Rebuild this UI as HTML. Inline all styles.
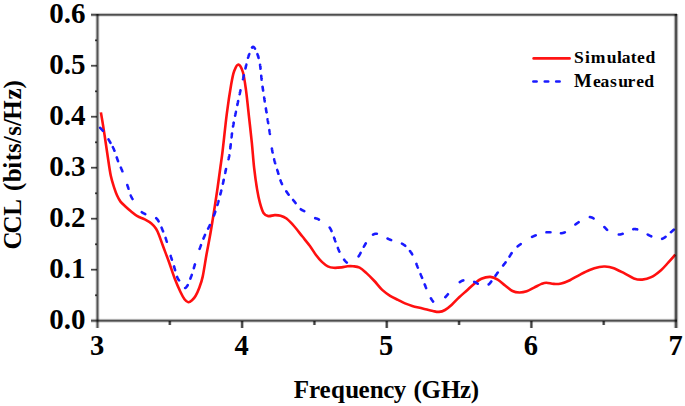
<!DOCTYPE html>
<html><head><meta charset="utf-8"><style>
html,body{margin:0;padding:0;background:#fff;width:685px;height:406px;overflow:hidden}
svg{display:block}
text{font-family:"Liberation Serif",serif;font-weight:bold}
</style></head><body>
<svg width="685" height="406" viewBox="0 0 685 406">
<path d="M100.90 112.40 C101.25 114.50 102.27 120.40 103.00 125.00 C103.73 129.60 104.55 135.00 105.30 140.00 C106.05 145.00 106.58 149.03 107.50 155.00 C108.42 160.97 109.63 170.20 110.80 175.80 C111.97 181.40 113.45 185.32 114.50 188.60 C115.55 191.88 116.10 193.33 117.10 195.50 C118.10 197.67 119.07 199.73 120.50 201.60 C121.93 203.47 123.97 205.10 125.70 206.70 C127.43 208.30 128.95 209.63 130.90 211.20 C132.85 212.77 135.08 214.73 137.40 216.10 C139.72 217.47 142.47 218.17 144.80 219.40 C147.13 220.63 149.55 221.97 151.40 223.50 C153.25 225.03 154.67 226.77 155.90 228.60 C157.13 230.43 157.63 231.63 158.80 234.50 C159.97 237.37 161.23 241.30 162.90 245.80 C164.57 250.30 166.83 256.05 168.80 261.50 C170.77 266.95 172.73 273.37 174.70 278.50 C176.67 283.63 178.97 288.85 180.60 292.30 C182.23 295.75 183.22 297.55 184.50 299.20 C185.78 300.85 187.05 302.02 188.30 302.20 C189.55 302.38 190.80 301.33 192.00 300.30 C193.20 299.27 194.28 298.10 195.50 296.00 C196.72 293.90 198.10 290.93 199.30 287.70 C200.50 284.47 201.50 282.13 202.70 276.60 C203.90 271.07 205.20 261.77 206.50 254.50 C207.80 247.23 209.13 240.92 210.50 233.00 C211.87 225.08 213.50 214.67 214.70 207.00 C215.90 199.33 216.77 193.50 217.70 187.00 C218.63 180.50 219.48 174.00 220.30 168.00 C221.12 162.00 221.52 160.03 222.60 151.00 C223.68 141.97 225.37 124.92 226.80 113.80 C228.23 102.68 229.97 91.43 231.20 84.30 C232.43 77.17 232.98 74.28 234.20 71.00 C235.42 67.72 237.03 64.35 238.50 64.60 C239.97 64.85 241.75 68.23 243.00 72.50 C244.25 76.77 245.00 82.82 246.00 90.20 C247.00 97.58 248.02 107.95 249.00 116.80 C249.98 125.65 251.05 134.82 251.90 143.30 C252.75 151.78 253.23 160.02 254.10 167.70 C254.97 175.38 256.12 183.48 257.10 189.40 C258.08 195.32 258.93 199.27 260.00 203.20 C261.07 207.13 262.12 210.85 263.50 213.00 C264.88 215.15 266.43 215.75 268.30 216.10 C270.17 216.45 272.65 215.17 274.70 215.10 C276.75 215.03 278.63 215.12 280.60 215.70 C282.57 216.28 284.20 216.80 286.50 218.60 C288.80 220.40 291.78 223.55 294.40 226.50 C297.02 229.45 299.58 233.02 302.20 236.30 C304.82 239.58 307.80 243.08 310.10 246.20 C312.40 249.32 314.03 252.38 316.00 255.00 C317.97 257.62 319.93 260.02 321.90 261.90 C323.87 263.78 325.83 265.32 327.80 266.30 C329.77 267.28 331.40 267.62 333.70 267.80 C336.00 267.98 339.30 267.65 341.60 267.40 C343.90 267.15 345.60 266.48 347.50 266.30 C349.40 266.12 350.98 266.08 353.00 266.30 C355.02 266.52 357.35 266.47 359.60 267.60 C361.85 268.73 364.03 270.87 366.50 273.10 C368.97 275.33 371.78 278.20 374.40 281.00 C377.02 283.80 379.58 287.43 382.20 289.90 C384.82 292.37 387.47 294.13 390.10 295.80 C392.73 297.47 395.52 298.63 398.00 299.90 C400.48 301.17 402.63 302.40 405.00 303.40 C407.37 304.40 409.27 305.07 412.20 305.90 C415.13 306.73 419.15 307.55 422.60 308.40 C426.05 309.25 430.17 310.42 432.90 311.00 C435.63 311.58 436.98 312.07 439.00 311.90 C441.02 311.73 442.87 311.20 445.00 310.00 C447.13 308.80 449.43 306.82 451.80 304.70 C454.17 302.58 456.73 299.63 459.20 297.30 C461.67 294.97 464.13 292.92 466.60 290.70 C469.07 288.48 471.53 285.98 474.00 284.00 C476.47 282.02 478.68 279.98 481.40 278.80 C484.12 277.62 487.58 276.77 490.30 276.90 C493.02 277.03 495.23 278.17 497.70 279.60 C500.17 281.03 502.63 283.60 505.10 285.50 C507.57 287.40 510.13 289.83 512.50 291.00 C514.87 292.17 516.93 292.45 519.30 292.50 C521.67 292.55 524.23 292.12 526.70 291.30 C529.17 290.48 531.63 288.83 534.10 287.60 C536.57 286.37 539.45 284.72 541.50 283.90 C543.55 283.08 544.35 282.70 546.40 282.70 C548.45 282.70 551.33 283.78 553.80 283.90 C556.27 284.02 558.52 284.02 561.20 283.40 C563.88 282.78 566.82 281.63 569.90 280.20 C572.98 278.77 576.42 276.50 579.70 274.80 C582.98 273.10 586.32 271.30 589.60 270.00 C592.88 268.70 596.83 267.58 599.40 267.00 C601.97 266.42 602.73 266.33 605.00 266.50 C607.27 266.67 609.82 266.88 613.00 268.00 C616.18 269.12 620.62 271.47 624.10 273.20 C627.58 274.93 630.88 277.33 633.90 278.40 C636.92 279.47 639.32 279.80 642.20 279.60 C645.08 279.40 648.07 278.77 651.20 277.20 C654.33 275.63 658.13 272.67 661.00 270.20 C663.87 267.73 666.02 265.00 668.40 262.40 C670.78 259.80 674.15 255.90 675.30 254.60" fill="none" stroke="#ff1010" stroke-width="2.6" stroke-linejoin="round" stroke-linecap="butt"/>
<path d="M100.20 127.80 L100.27 127.88 L100.34 127.96 L100.42 128.06 L100.51 128.15 L100.60 128.25 L100.70 128.36 L100.80 128.47 L100.91 128.59 L101.02 128.71 L101.14 128.83 L101.26 128.96 L101.38 129.10 L101.51 129.24 L101.64 129.38 L101.78 129.53 L101.92 129.69 L102.06 129.84 L102.20 130.01 L102.34 130.17 L102.49 130.34 L102.64 130.52 L102.79 130.70 L102.83 130.74 M108.51 139.42 L108.61 139.60 L108.72 139.78 L108.82 139.96 L108.93 140.14 L109.03 140.32 L109.13 140.49 L109.23 140.67 L109.33 140.84 L109.43 141.01 L109.53 141.18 L109.63 141.35 L109.72 141.52 L109.82 141.68 L109.91 141.84 L110.00 142.00 L110.11 142.19 L110.22 142.38 L110.32 142.57 L110.43 142.75 L110.48 142.84 M112.86 147.10 L112.93 147.25 L113.01 147.42 L113.10 147.60 L113.19 147.78 L113.28 147.96 L113.37 148.15 L113.45 148.34 L113.54 148.53 L113.63 148.72 L113.72 148.92 L113.81 149.12 L113.90 149.32 L113.99 149.53 L114.08 149.75 L114.15 149.92 L114.22 150.08 L114.28 150.25 L114.35 150.42 L114.42 150.58 L114.47 150.71 M116.74 157.42 L116.80 157.62 L116.87 157.81 L116.93 158.01 L117.00 158.21 L117.07 158.41 L117.13 158.60 L117.20 158.80 L117.27 159.00 L117.34 159.19 L117.41 159.38 L117.47 159.58 L117.54 159.77 L117.61 159.96 L117.68 160.15 L117.75 160.34 L117.82 160.53 L117.89 160.72 L117.96 160.91 L118.04 161.09 L118.05 161.14 M120.84 167.58 L120.92 167.76 L121.00 167.95 L121.08 168.13 L121.16 168.32 L121.24 168.50 L121.32 168.69 L121.40 168.87 L121.48 169.06 L121.56 169.25 L121.65 169.44 L121.73 169.64 L121.81 169.83 L121.89 170.03 L121.97 170.22 L122.05 170.42 L122.13 170.62 L122.21 170.82 L122.30 171.02 L122.38 171.23 M127.31 185.05 L127.37 185.22 L127.43 185.39 L127.49 185.56 L127.56 185.76 L127.63 185.98 L127.70 186.20 L127.78 186.41 L127.85 186.63 L127.92 186.84 L127.99 187.06 L128.06 187.27 L128.13 187.49 L128.20 187.70 L128.27 187.91 L128.34 188.12 L128.40 188.33 L128.47 188.54 L128.54 188.75 L128.55 188.80 M130.77 195.50 L130.83 195.65 L130.89 195.81 L130.96 195.96 L131.02 196.11 L131.08 196.26 L131.18 196.48 L131.28 196.71 L131.39 196.93 L131.49 197.15 L131.60 197.36 L131.70 197.56 L131.80 197.76 L131.91 197.95 L132.01 198.13 L132.12 198.31 L132.22 198.49 L132.33 198.66 L132.43 198.82 L132.53 198.99 L132.56 199.03 M141.77 212.20 L141.92 212.30 L142.08 212.41 L142.25 212.52 L142.42 212.63 L142.59 212.73 L142.77 212.84 L142.95 212.94 L143.13 213.04 L143.31 213.14 L143.50 213.24 L143.68 213.33 L143.87 213.43 L144.06 213.52 L144.25 213.61 L144.44 213.70 L144.63 213.79 L144.82 213.88 L145.01 213.96 L145.20 214.05 L145.24 214.07 M156.22 218.20 L156.34 218.31 L156.48 218.44 L156.61 218.57 L156.74 218.71 L156.87 218.85 L156.99 218.99 L157.12 219.13 L157.24 219.28 L157.35 219.43 L157.47 219.58 L157.58 219.74 L157.70 219.90 L157.81 220.06 L157.92 220.23 L158.03 220.40 L158.13 220.57 L158.24 220.74 L158.35 220.92 L158.45 221.10 L158.56 221.28 L158.61 221.37 M161.59 227.71 L161.67 227.91 L161.75 228.11 L161.83 228.31 L161.91 228.52 L161.99 228.72 L162.07 228.93 L162.16 229.14 L162.24 229.35 L162.33 229.57 L162.41 229.78 L162.50 230.00 L162.56 230.16 L162.63 230.32 L162.70 230.49 L162.76 230.65 L162.83 230.81 L162.90 230.97 L162.96 231.14 L163.03 231.30 L163.06 231.38 M165.62 237.96 L165.70 238.17 L165.77 238.39 L165.85 238.61 L165.92 238.84 L166.00 239.06 L166.07 239.29 L166.14 239.52 L166.21 239.74 L166.26 239.90 L166.32 240.07 L166.37 240.24 L166.42 240.40 L166.47 240.58 L166.52 240.75 L166.57 240.93 L166.63 241.10 L166.68 241.28 L166.73 241.46 L166.79 241.65 L166.81 241.74 M170.68 255.89 L170.73 256.08 L170.80 256.28 L170.86 256.48 L170.92 256.69 L170.98 256.88 L171.05 257.08 L171.11 257.28 L171.17 257.47 L171.23 257.66 L171.29 257.85 L171.35 258.04 L171.41 258.23 L171.47 258.42 L171.53 258.60 L171.59 258.79 L171.65 258.97 L171.71 259.16 L171.77 259.34 L171.83 259.52 L171.88 259.66 M174.01 266.40 L174.07 266.60 L174.13 266.80 L174.19 267.00 L174.24 267.21 L174.30 267.41 L174.36 267.62 L174.42 267.83 L174.48 268.04 L174.54 268.24 L174.59 268.45 L174.65 268.66 L174.71 268.88 L174.77 269.09 L174.83 269.30 L174.89 269.51 L174.94 269.72 L175.00 269.93 L175.06 270.14 L175.08 270.20 M177.14 276.96 L177.25 277.23 L177.35 277.48 L177.46 277.72 L177.57 277.95 L177.67 278.17 L177.77 278.37 L177.87 278.56 L177.98 278.74 L178.08 278.92 L178.17 279.08 L178.27 279.24 L178.37 279.39 L178.47 279.54 L178.56 279.68 L178.66 279.82 L178.75 279.96 L178.85 280.09 L178.94 280.23 L179.03 280.36 L179.06 280.39 M185.13 288.01 L185.30 287.97 L185.47 287.89 L185.63 287.79 L185.79 287.67 L185.94 287.53 L186.09 287.37 L186.24 287.19 L186.39 287.01 L186.54 286.83 L186.69 286.64 L186.83 286.47 L186.93 286.34 L187.04 286.20 L187.14 286.06 L187.24 285.92 L187.34 285.77 L187.44 285.62 L187.54 285.46 L187.64 285.30 L187.74 285.13 M190.39 278.58 L190.46 278.38 L190.53 278.19 L190.60 278.00 L190.67 277.81 L190.74 277.63 L190.81 277.44 L190.88 277.26 L190.95 277.07 L191.02 276.89 L191.09 276.70 L191.16 276.52 L191.23 276.33 L191.30 276.15 L191.37 275.96 L191.44 275.78 L191.51 275.59 L191.58 275.40 L191.64 275.22 L191.71 275.03 L191.77 274.89 M193.83 268.17 L193.88 267.98 L193.94 267.78 L193.99 267.59 L194.04 267.40 L194.10 267.21 L194.15 267.02 L194.20 266.83 L194.26 266.64 L194.31 266.45 L194.37 266.25 L194.43 266.06 L194.49 265.88 L194.54 265.70 L194.60 265.52 L194.65 265.35 L194.70 265.17 L194.76 265.00 L194.81 264.83 L194.87 264.67 L194.92 264.50 L194.96 264.37 M199.59 248.85 L199.65 248.68 L199.71 248.50 L199.77 248.33 L199.83 248.15 L199.90 247.98 L199.96 247.80 L200.02 247.63 L200.09 247.45 L200.15 247.28 L200.22 247.10 L200.29 246.92 L200.35 246.75 L200.42 246.57 L200.49 246.38 L200.56 246.20 L200.63 246.02 L200.70 245.83 L200.77 245.64 L200.85 245.44 L200.92 245.25 L200.96 245.15 M203.48 238.53 L203.56 238.34 L203.64 238.15 L203.71 237.96 L203.79 237.76 L203.87 237.57 L203.95 237.38 L204.03 237.18 L204.11 236.99 L204.19 236.79 L204.27 236.59 L204.35 236.39 L204.44 236.19 L204.52 235.99 L204.61 235.79 L204.70 235.59 L204.78 235.39 L204.87 235.18 L204.96 234.98 L205.01 234.88 M208.11 228.57 L208.21 228.38 L208.31 228.19 L208.41 228.01 L208.51 227.82 L208.60 227.63 L208.70 227.44 L208.80 227.25 L208.90 227.07 L209.00 226.88 L209.09 226.69 L209.19 226.50 L209.29 226.32 L209.38 226.13 L209.48 225.95 L209.57 225.76 L209.67 225.58 L209.76 225.39 L209.86 225.21 L209.93 225.07 M214.04 215.43 L214.10 215.25 L214.16 215.07 L214.23 214.89 L214.29 214.71 L214.35 214.53 L214.41 214.34 L214.48 214.16 L214.54 213.97 L214.60 213.78 L214.67 213.59 L214.73 213.40 L214.80 213.21 L214.86 213.02 L214.93 212.82 L214.99 212.62 L215.06 212.42 L215.13 212.22 L215.20 212.01 L215.27 211.80 L215.31 211.66 M217.42 204.94 L217.48 204.74 L217.54 204.55 L217.60 204.35 L217.66 204.15 L217.71 203.96 L217.77 203.76 L217.83 203.56 L217.89 203.36 L217.94 203.16 L218.00 202.96 L218.06 202.76 L218.12 202.56 L218.18 202.35 L218.23 202.15 L218.29 201.95 L218.35 201.74 L218.41 201.54 L218.47 201.33 L218.52 201.13 M220.33 194.35 L220.38 194.16 L220.43 193.97 L220.48 193.78 L220.53 193.59 L220.58 193.40 L220.63 193.21 L220.67 193.01 L220.72 192.82 L220.77 192.63 L220.82 192.43 L220.87 192.24 L220.92 192.05 L220.97 191.85 L221.01 191.65 L221.06 191.46 L221.11 191.26 L221.16 191.07 L221.21 190.87 L221.26 190.67 L221.29 190.52 M222.92 183.63 L222.96 183.44 L223.01 183.25 L223.05 183.06 L223.09 182.87 L223.13 182.68 L223.18 182.49 L223.22 182.30 L223.26 182.10 L223.30 181.91 L223.35 181.71 L223.39 181.52 L223.43 181.32 L223.47 181.12 L223.52 180.92 L223.56 180.73 L223.60 180.53 L223.64 180.33 L223.69 180.13 L223.73 179.93 L223.76 179.77 M225.20 172.90 L225.24 172.70 L225.28 172.50 L225.33 172.30 L225.37 172.10 L225.41 171.90 L225.45 171.71 L225.49 171.51 L225.53 171.31 L225.57 171.12 L225.62 170.92 L225.66 170.73 L225.70 170.53 L225.74 170.34 L225.78 170.15 L225.82 169.96 L225.86 169.77 L225.90 169.58 L225.94 169.39 L225.98 169.20 L226.02 169.02 M228.50 159.21 L228.54 159.04 L228.58 158.85 L228.63 158.67 L228.67 158.48 L228.72 158.28 L228.76 158.08 L228.80 157.88 L228.85 157.68 L228.89 157.48 L228.94 157.27 L228.98 157.05 L229.03 156.84 L229.07 156.62 L229.12 156.39 L229.16 156.16 L229.21 155.93 L229.25 155.70 L229.30 155.45 L229.32 155.33 M230.32 148.35 L230.34 148.17 L230.36 147.98 L230.38 147.79 L230.40 147.61 L230.42 147.42 L230.44 147.23 L230.46 147.04 L230.48 146.85 L230.50 146.66 L230.52 146.46 L230.55 146.27 L230.57 146.08 L230.59 145.88 L230.61 145.69 L230.63 145.49 L230.65 145.30 L230.67 145.10 L230.69 144.90 L230.71 144.70 L230.73 144.51 L230.74 144.41 M231.50 137.39 L231.53 137.17 L231.55 136.96 L231.58 136.74 L231.60 136.53 L231.63 136.31 L231.65 136.10 L231.68 135.88 L231.71 135.66 L231.73 135.45 L231.76 135.23 L231.79 135.01 L231.81 134.80 L231.84 134.58 L231.87 134.36 L231.90 134.15 L231.92 133.93 L231.95 133.71 L231.98 133.49 M233.05 126.53 L233.08 126.34 L233.12 126.15 L233.15 125.96 L233.18 125.78 L233.22 125.59 L233.25 125.40 L233.28 125.21 L233.32 125.02 L233.35 124.83 L233.39 124.64 L233.42 124.44 L233.46 124.25 L233.49 124.06 L233.53 123.87 L233.56 123.67 L233.60 123.48 L233.63 123.29 L233.67 123.09 L233.70 122.90 L233.74 122.70 L233.75 122.66 M235.10 115.73 L235.14 115.53 L235.18 115.33 L235.22 115.13 L235.26 114.93 L235.30 114.72 L235.35 114.52 L235.39 114.32 L235.43 114.12 L235.47 113.91 L235.51 113.71 L235.55 113.51 L235.59 113.30 L235.64 113.10 L235.68 112.90 L235.72 112.70 L235.76 112.49 L235.80 112.29 L235.85 112.09 L235.89 111.89 L235.90 111.84 M237.34 104.96 L237.38 104.76 L237.42 104.57 L237.46 104.37 L237.51 104.17 L237.55 103.98 L237.59 103.78 L237.63 103.59 L237.67 103.39 L237.71 103.20 L237.75 103.00 L237.80 102.81 L237.84 102.61 L237.88 102.42 L237.92 102.23 L237.96 102.03 L238.00 101.84 L238.04 101.65 L238.08 101.46 L238.12 101.26 L238.16 101.07 M239.63 94.16 L239.67 93.95 L239.72 93.75 L239.76 93.54 L239.81 93.33 L239.85 93.12 L239.90 92.91 L239.94 92.70 L239.99 92.50 L240.03 92.29 L240.08 92.08 L240.12 91.87 L240.17 91.67 L240.22 91.46 L240.26 91.25 L240.31 91.04 L240.35 90.84 L240.40 90.63 L240.44 90.42 L240.46 90.32 M242.95 79.19 L242.99 79.02 L243.03 78.83 L243.08 78.64 L243.12 78.46 L243.16 78.27 L243.20 78.09 L243.25 77.90 L243.29 77.72 L243.33 77.53 L243.37 77.35 L243.41 77.17 L243.46 76.99 L243.50 76.81 L243.54 76.63 L243.58 76.45 L243.62 76.27 L243.66 76.09 L243.70 75.91 L243.75 75.73 L243.79 75.56 L243.83 75.38 L243.84 75.34 M245.44 68.46 L245.49 68.24 L245.54 68.01 L245.59 67.79 L245.64 67.57 L245.69 67.35 L245.74 67.13 L245.79 66.91 L245.84 66.69 L245.89 66.47 L245.94 66.26 L245.99 66.04 L246.04 65.83 L246.09 65.62 L246.14 65.41 L246.19 65.19 L246.24 64.98 L246.29 64.78 L246.32 64.62 M248.06 57.77 L248.10 57.61 L248.15 57.44 L248.20 57.28 L248.25 57.12 L248.29 56.96 L248.34 56.80 L248.39 56.65 L248.44 56.49 L248.49 56.34 L248.53 56.19 L248.58 56.03 L248.63 55.88 L248.68 55.74 L248.73 55.59 L248.78 55.44 L248.83 55.30 L248.88 55.15 L248.93 55.01 L248.98 54.87 L249.05 54.66 L249.15 54.38 L249.25 54.09 L249.27 54.02 M252.04 47.56 L252.14 47.44 L252.25 47.33 L252.35 47.22 L252.46 47.13 L252.56 47.06 L252.67 46.99 L252.77 46.94 L252.88 46.90 L252.99 46.88 L253.10 46.86 L253.21 46.87 L253.32 46.89 L253.43 46.92 L253.54 46.97 L253.63 47.02 L253.71 47.07 L253.78 47.12 L253.85 47.18 L253.92 47.24 L254.00 47.31 L254.07 47.38 L254.15 47.46 L254.22 47.55 L254.30 47.64 L254.38 47.74 L254.45 47.84 L254.53 47.94 L254.61 48.05 L254.69 48.17 L254.77 48.29 L254.85 48.42 L254.93 48.55 L254.97 48.61 M257.40 54.14 L257.48 54.35 L257.56 54.58 L257.64 54.82 L257.72 55.05 L257.80 55.29 L257.87 55.53 L257.95 55.77 L258.03 56.01 L258.10 56.26 L258.18 56.50 L258.25 56.75 L258.33 56.99 L258.40 57.24 L258.47 57.49 L258.54 57.74 L258.59 57.93 M260.05 64.83 L260.08 65.01 L260.10 65.19 L260.13 65.37 L260.16 65.55 L260.18 65.73 L260.20 65.91 L260.23 66.10 L260.25 66.28 L260.28 66.47 L260.30 66.66 L260.32 66.84 L260.35 67.03 L260.37 67.22 L260.39 67.41 L260.41 67.60 L260.44 67.79 L260.46 67.98 L260.48 68.17 L260.50 68.37 L260.52 68.56 L260.54 68.75 M261.23 75.75 L261.25 75.97 L261.27 76.18 L261.29 76.39 L261.31 76.61 L261.33 76.82 L261.36 77.04 L261.38 77.25 L261.40 77.47 L261.42 77.69 L261.44 77.90 L261.47 78.12 L261.49 78.34 L261.51 78.55 L261.53 78.77 L261.56 78.99 L261.58 79.21 L261.60 79.43 L261.63 79.65 L261.63 79.70 M262.54 86.70 L262.57 86.89 L262.59 87.08 L262.62 87.27 L262.65 87.46 L262.68 87.65 L262.71 87.85 L262.73 88.04 L262.76 88.24 L262.79 88.43 L262.82 88.63 L262.85 88.83 L262.88 89.03 L262.91 89.23 L262.94 89.43 L262.97 89.63 L263.00 89.83 L263.03 90.03 L263.06 90.23 L263.09 90.43 L263.11 90.58 M264.17 97.58 L264.20 97.79 L264.23 98.00 L264.27 98.21 L264.30 98.43 L264.33 98.64 L264.36 98.85 L264.40 99.06 L264.43 99.27 L264.46 99.48 L264.49 99.70 L264.53 99.91 L264.56 100.12 L264.59 100.33 L264.63 100.54 L264.66 100.75 L264.69 100.96 L264.72 101.17 L264.76 101.38 L264.76 101.43 M265.86 108.43 L265.89 108.62 L265.92 108.81 L265.95 109.00 L265.98 109.19 L266.01 109.38 L266.04 109.57 L266.07 109.76 L266.10 109.94 L266.12 110.13 L266.15 110.31 L266.18 110.50 L266.21 110.68 L266.24 110.86 L266.27 111.04 L266.30 111.22 L266.32 111.40 L266.35 111.58 L266.38 111.76 L266.41 111.93 L266.44 112.11 L266.46 112.28 L266.47 112.33 M267.58 119.27 L267.61 119.48 L267.65 119.70 L267.68 119.91 L267.72 120.12 L267.75 120.33 L267.78 120.54 L267.82 120.75 L267.85 120.96 L267.89 121.16 L267.92 121.37 L267.95 121.57 L267.99 121.78 L268.02 121.98 L268.06 122.18 L268.09 122.38 L268.12 122.58 L268.15 122.77 L268.19 122.97 L268.22 123.17 M269.36 130.12 L269.39 130.30 L269.41 130.47 L269.44 130.65 L269.47 130.82 L269.50 130.99 L269.52 131.17 L269.55 131.34 L269.58 131.52 L269.60 131.69 L269.63 131.87 L269.66 132.04 L269.68 132.21 L269.71 132.39 L269.74 132.56 L269.76 132.74 L269.79 132.91 L269.82 133.11 L269.85 133.34 L269.88 133.57 L269.91 133.79 L269.95 134.02 L269.95 134.07 M271.86 148.61 L271.89 148.77 L271.93 148.97 L271.96 149.17 L272.00 149.38 L272.04 149.58 L272.08 149.79 L272.12 149.99 L272.16 150.20 L272.20 150.41 L272.24 150.61 L272.28 150.82 L272.32 151.02 L272.36 151.23 L272.40 151.43 L272.44 151.64 L272.48 151.84 L272.52 152.05 L272.57 152.25 L272.61 152.46 L272.62 152.51 M274.18 159.39 L274.22 159.57 L274.26 159.75 L274.31 159.93 L274.35 160.11 L274.40 160.29 L274.44 160.47 L274.48 160.64 L274.53 160.82 L274.57 160.99 L274.61 161.16 L274.66 161.33 L274.70 161.50 L274.76 161.73 L274.82 161.95 L274.87 162.17 L274.93 162.39 L274.99 162.61 L275.04 162.82 L275.10 163.03 L275.16 163.23 M277.23 169.94 L277.29 170.13 L277.36 170.33 L277.42 170.53 L277.49 170.73 L277.55 170.93 L277.62 171.14 L277.68 171.35 L277.74 171.53 L277.80 171.71 L277.85 171.89 L277.91 172.07 L277.96 172.25 L278.02 172.43 L278.08 172.61 L278.13 172.80 L278.19 172.98 L278.24 173.17 L278.30 173.36 L278.35 173.55 L278.41 173.74 M280.50 180.44 L280.57 180.63 L280.64 180.82 L280.71 181.01 L280.78 181.20 L280.85 181.38 L280.92 181.57 L280.99 181.76 L281.07 181.94 L281.14 182.13 L281.21 182.31 L281.29 182.49 L281.37 182.67 L281.44 182.85 L281.52 183.02 L281.60 183.20 L281.69 183.39 L281.77 183.58 L281.86 183.76 L281.95 183.95 L282.01 184.09 M286.31 191.38 L286.42 191.53 L286.53 191.69 L286.64 191.86 L286.75 192.02 L286.86 192.18 L286.97 192.34 L287.08 192.50 L287.19 192.66 L287.31 192.82 L287.42 192.98 L287.53 193.14 L287.65 193.31 L287.77 193.48 L287.89 193.64 L288.01 193.81 L288.13 193.98 L288.26 194.14 L288.38 194.31 L288.50 194.47 L288.63 194.63 M293.14 200.00 L293.27 200.15 L293.40 200.30 L293.52 200.44 L293.64 200.59 L293.77 200.74 L293.89 200.88 L294.01 201.03 L294.13 201.17 L294.25 201.32 L294.37 201.46 L294.50 201.63 L294.64 201.80 L294.77 201.97 L294.91 202.14 L295.05 202.31 L295.18 202.48 L295.31 202.65 L295.45 202.82 L295.58 203.00 L295.65 203.08 M300.77 209.22 L300.93 209.35 L301.09 209.48 L301.26 209.60 L301.41 209.71 L301.57 209.81 L301.72 209.90 L301.87 209.99 L302.02 210.07 L302.17 210.15 L302.32 210.22 L302.47 210.29 L302.62 210.36 L302.77 210.43 L302.93 210.50 L303.09 210.57 L303.25 210.65 L303.42 210.73 L303.59 210.81 L303.77 210.90 L303.96 210.99 L304.16 211.09 L304.26 211.14 M315.23 218.16 L315.39 218.22 L315.57 218.29 L315.73 218.34 L315.89 218.39 L316.04 218.43 L316.19 218.46 L316.33 218.50 L316.48 218.53 L316.62 218.57 L316.77 218.60 L316.92 218.64 L317.07 218.69 L317.23 218.74 L317.40 218.80 L317.58 218.87 L317.77 218.95 L317.97 219.04 L318.19 219.15 L318.42 219.27 L318.67 219.40 L318.93 219.56 M329.68 227.57 L329.80 227.74 L329.92 227.91 L330.03 228.09 L330.15 228.26 L330.25 228.44 L330.36 228.62 L330.46 228.80 L330.56 228.97 L330.65 229.15 L330.74 229.33 L330.83 229.51 L330.92 229.69 L331.00 229.87 L331.08 230.05 L331.16 230.23 L331.24 230.42 L331.32 230.60 L331.39 230.78 L331.46 230.96 L331.52 231.10 M334.07 237.63 L334.13 237.81 L334.19 237.99 L334.26 238.18 L334.32 238.36 L334.38 238.54 L334.45 238.72 L334.51 238.91 L334.58 239.09 L334.64 239.28 L334.71 239.46 L334.77 239.65 L334.84 239.84 L334.91 240.03 L334.97 240.23 L335.04 240.42 L335.11 240.62 L335.18 240.81 L335.26 241.01 L335.33 241.21 L335.39 241.37 M337.87 247.95 L337.94 248.15 L338.02 248.34 L338.10 248.54 L338.17 248.73 L338.25 248.93 L338.33 249.12 L338.40 249.31 L338.48 249.50 L338.56 249.69 L338.63 249.88 L338.71 250.07 L338.79 250.25 L338.86 250.43 L338.94 250.61 L339.02 250.79 L339.09 250.97 L339.17 251.14 L339.24 251.32 L339.32 251.49 L339.38 251.61 M344.13 259.69 L344.27 259.86 L344.41 260.03 L344.55 260.20 L344.69 260.37 L344.83 260.53 L344.98 260.70 L345.12 260.87 L345.27 261.03 L345.41 261.19 L345.56 261.35 L345.71 261.51 L345.85 261.67 L346.00 261.82 L346.15 261.97 L346.30 262.12 L346.44 262.26 L346.59 262.40 L346.74 262.54 L346.81 262.61 M358.59 256.42 L358.67 256.29 L358.77 256.13 L358.86 255.97 L358.96 255.81 L359.06 255.65 L359.16 255.49 L359.25 255.33 L359.35 255.16 L359.45 254.99 L359.55 254.82 L359.64 254.65 L359.74 254.48 L359.84 254.30 L359.94 254.12 L360.04 253.95 L360.14 253.77 L360.23 253.59 L360.33 253.41 L360.43 253.23 L360.53 253.04 L360.58 252.95 M363.85 246.76 L363.94 246.59 L364.03 246.43 L364.12 246.27 L364.21 246.11 L364.30 245.95 L364.39 245.79 L364.48 245.64 L364.59 245.45 L364.70 245.25 L364.82 245.05 L364.93 244.85 L365.04 244.65 L365.15 244.45 L365.26 244.26 L365.37 244.06 L365.47 243.87 L365.58 243.67 L365.68 243.48 L365.79 243.29 M373.04 234.66 L373.20 234.58 L373.37 234.48 L373.55 234.40 L373.72 234.32 L373.89 234.24 L374.07 234.17 L374.25 234.10 L374.42 234.04 L374.60 233.98 L374.78 233.93 L374.95 233.89 L375.13 233.85 L375.31 233.81 L375.49 233.79 L375.67 233.77 L375.86 233.75 L376.04 233.75 L376.22 233.75 L376.41 233.75 L376.59 233.77 L376.77 233.78 L376.87 233.80 M387.50 238.49 L387.65 238.57 L387.84 238.66 L388.03 238.76 L388.22 238.86 L388.42 238.95 L388.62 239.05 L388.82 239.15 L389.03 239.24 L389.24 239.33 L389.45 239.43 L389.66 239.52 L389.88 239.61 L390.10 239.70 L390.26 239.76 L390.42 239.83 L390.59 239.89 L390.76 239.95 L390.94 240.01 L391.11 240.08 L391.16 240.09 M401.96 243.63 L402.13 243.72 L402.35 243.83 L402.56 243.95 L402.77 244.06 L402.97 244.18 L403.16 244.29 L403.35 244.41 L403.54 244.52 L403.71 244.64 L403.89 244.76 L404.05 244.88 L404.22 245.00 L404.38 245.12 L404.53 245.23 L404.68 245.36 L404.83 245.48 L404.98 245.60 L405.12 245.72 L405.26 245.85 M409.99 251.03 L410.10 251.18 L410.22 251.33 L410.33 251.48 L410.45 251.63 L410.56 251.79 L410.68 251.95 L410.79 252.11 L410.91 252.27 L411.02 252.44 L411.14 252.61 L411.25 252.78 L411.36 252.95 L411.48 253.13 L411.59 253.31 L411.71 253.49 L411.82 253.67 L411.94 253.86 L412.05 254.06 L412.16 254.25 L412.19 254.30 M416.41 263.95 L416.47 264.12 L416.55 264.31 L416.63 264.51 L416.70 264.71 L416.78 264.90 L416.86 265.10 L416.93 265.29 L417.01 265.49 L417.09 265.68 L417.16 265.87 L417.24 266.07 L417.32 266.26 L417.39 266.45 L417.47 266.64 L417.55 266.83 L417.62 267.01 L417.70 267.20 L417.78 267.38 L417.85 267.57 L417.89 267.66 M420.57 274.15 L420.65 274.34 L420.73 274.52 L420.80 274.71 L420.88 274.90 L420.96 275.08 L421.03 275.27 L421.11 275.45 L421.19 275.64 L421.26 275.82 L421.34 276.01 L421.41 276.19 L421.49 276.37 L421.56 276.55 L421.64 276.74 L421.71 276.92 L421.78 277.10 L421.86 277.27 L421.93 277.45 L422.00 277.63 L422.07 277.81 M424.66 284.37 L424.73 284.55 L424.80 284.73 L424.87 284.91 L424.94 285.10 L425.02 285.28 L425.09 285.46 L425.16 285.64 L425.23 285.82 L425.30 286.00 L425.37 286.18 L425.44 286.36 L425.52 286.54 L425.59 286.72 L425.66 286.90 L425.73 287.08 L425.81 287.26 L425.88 287.44 L425.96 287.62 L426.03 287.80 L426.11 287.98 L426.13 288.03 M430.87 298.28 L430.94 298.40 L431.03 298.55 L431.17 298.77 L431.31 298.99 L431.44 299.20 L431.58 299.41 L431.71 299.62 L431.85 299.82 L431.98 300.03 L432.12 300.22 L432.25 300.42 L432.38 300.61 L432.52 300.79 L432.65 300.97 L432.79 301.15 L432.92 301.32 L433.05 301.48 L433.12 301.56 M445.32 297.18 L445.45 297.06 L445.59 296.92 L445.73 296.78 L445.86 296.64 L446.00 296.49 L446.13 296.35 L446.27 296.20 L446.40 296.06 L446.53 295.91 L446.66 295.76 L446.79 295.61 L446.92 295.46 L447.04 295.30 L447.17 295.15 L447.30 294.99 L447.42 294.84 L447.55 294.68 L447.67 294.52 L447.80 294.36 L447.92 294.20 M459.77 282.14 L459.94 282.04 L460.12 281.92 L460.29 281.80 L460.46 281.69 L460.63 281.59 L460.79 281.48 L460.95 281.38 L461.11 281.28 L461.26 281.19 L461.42 281.10 L461.58 281.01 L461.74 280.93 L461.90 280.86 L462.07 280.78 L462.24 280.71 L462.41 280.65 L462.59 280.59 L462.78 280.54 L462.97 280.49 L463.17 280.44 L463.33 280.41 M474.23 281.86 L474.47 281.94 L474.71 282.02 L474.94 282.11 L475.15 282.20 L475.35 282.29 L475.54 282.38 L475.71 282.48 L475.88 282.58 L476.04 282.67 L476.19 282.77 L476.33 282.87 L476.48 282.97 L476.62 283.07 L476.76 283.16 L476.90 283.26 L477.05 283.35 L477.19 283.45 L477.35 283.54 L477.51 283.63 L477.67 283.71 L477.72 283.73 M488.69 284.38 L488.83 284.28 L488.95 284.18 L489.07 284.08 L489.19 283.98 L489.31 283.86 L489.43 283.75 L489.55 283.63 L489.67 283.50 L489.78 283.38 L489.90 283.24 L490.02 283.10 L490.14 282.96 L490.26 282.82 L490.38 282.67 L490.50 282.52 L490.62 282.36 L490.74 282.20 L490.86 282.04 L490.98 281.88 L491.10 281.71 L491.22 281.54 L491.32 281.41 M495.47 275.70 L495.58 275.54 L495.70 275.37 L495.82 275.21 L495.93 275.05 L496.05 274.88 L496.17 274.72 L496.29 274.55 L496.41 274.38 L496.53 274.21 L496.65 274.05 L496.77 273.88 L496.90 273.71 L497.02 273.54 L497.14 273.37 L497.27 273.19 L497.39 273.02 L497.52 272.85 L497.64 272.67 L497.77 272.50 M503.14 265.53 L503.25 265.39 L503.38 265.23 L503.50 265.07 L503.63 264.91 L503.76 264.75 L503.88 264.58 L504.01 264.42 L504.13 264.26 L504.26 264.09 L504.39 263.93 L504.51 263.76 L504.64 263.60 L504.77 263.43 L504.89 263.27 L505.02 263.10 L505.15 262.93 L505.27 262.77 L505.40 262.60 L505.53 262.43 L505.56 262.39 M509.51 256.52 L509.62 256.34 L509.73 256.16 L509.84 255.98 L509.96 255.80 L510.07 255.62 L510.18 255.45 L510.30 255.27 L510.41 255.09 L510.52 254.91 L510.63 254.73 L510.75 254.56 L510.86 254.38 L510.97 254.20 L511.08 254.03 L511.20 253.86 L511.31 253.68 L511.42 253.51 L511.54 253.34 L511.62 253.21 M517.60 246.39 L517.72 246.29 L517.86 246.17 L518.01 246.06 L518.16 245.94 L518.31 245.83 L518.46 245.71 L518.61 245.60 L518.76 245.49 L518.91 245.37 L519.06 245.26 L519.22 245.15 L519.37 245.04 L519.53 244.92 L519.68 244.81 L519.84 244.70 L520.00 244.58 L520.16 244.47 L520.32 244.36 L520.48 244.24 L520.65 244.12 L520.77 244.03 M532.05 236.93 L532.22 236.84 L532.41 236.75 L532.60 236.66 L532.80 236.57 L532.99 236.48 L533.18 236.39 L533.37 236.31 L533.57 236.22 L533.76 236.13 L533.96 236.05 L534.15 235.97 L534.35 235.88 L534.54 235.80 L534.74 235.72 L534.93 235.64 L535.13 235.56 L535.32 235.48 L535.52 235.41 L535.71 235.33 M546.50 232.31 L546.66 232.30 L546.85 232.28 L547.05 232.26 L547.24 232.25 L547.45 232.24 L547.65 232.23 L547.86 232.22 L548.07 232.21 L548.28 232.21 L548.50 232.20 L548.73 232.20 L548.94 232.20 L549.12 232.20 L549.30 232.21 L549.48 232.22 L549.67 232.23 L549.85 232.24 L550.04 232.26 L550.24 232.27 L550.43 232.30 L550.48 232.30 M560.96 233.28 L561.13 233.26 L561.32 233.24 L561.51 233.21 L561.70 233.19 L561.88 233.16 L562.07 233.13 L562.25 233.10 L562.43 233.06 L562.62 233.02 L562.80 232.98 L562.98 232.94 L563.17 232.89 L563.35 232.84 L563.53 232.78 L563.72 232.72 L563.91 232.66 L564.09 232.60 L564.28 232.53 L564.48 232.45 L564.67 232.38 L564.82 232.31 M575.41 224.50 L575.57 224.39 L575.74 224.27 L575.91 224.15 L576.08 224.03 L576.25 223.91 L576.42 223.79 L576.59 223.66 L576.76 223.54 L576.94 223.42 L577.11 223.29 L577.29 223.17 L577.46 223.04 L577.64 222.92 L577.82 222.79 L577.99 222.67 L578.17 222.54 L578.35 222.42 L578.53 222.29 L578.66 222.20 M589.87 217.07 L590.04 217.09 L590.22 217.11 L590.41 217.13 L590.60 217.16 L590.80 217.20 L590.97 217.24 L591.14 217.28 L591.31 217.33 L591.48 217.38 L591.65 217.44 L591.82 217.50 L591.99 217.57 L592.15 217.64 L592.32 217.71 L592.49 217.80 L592.66 217.88 L592.82 217.97 L592.99 218.06 L593.16 218.16 L593.32 218.26 L593.49 218.36 L593.57 218.42 M604.33 227.04 L604.45 227.14 L604.63 227.30 L604.80 227.46 L604.97 227.62 L605.12 227.77 L605.27 227.92 L605.42 228.07 L605.56 228.22 L605.69 228.37 L605.83 228.51 L605.95 228.66 L606.08 228.80 L606.20 228.94 L606.32 229.08 L606.44 229.21 L606.56 229.35 L606.68 229.48 L606.81 229.62 L606.93 229.75 L607.06 229.88 L607.09 229.91 M618.78 234.48 L618.93 234.49 L619.10 234.50 L619.32 234.50 L619.53 234.50 L619.75 234.49 L619.96 234.47 L620.17 234.45 L620.37 234.42 L620.57 234.39 L620.77 234.35 L620.97 234.31 L621.17 234.26 L621.36 234.21 L621.55 234.15 L621.74 234.09 L621.93 234.02 L622.12 233.96 L622.31 233.89 L622.49 233.81 L622.63 233.76 M633.24 229.19 L633.38 229.16 L633.57 229.14 L633.76 229.11 L633.95 229.10 L634.14 229.08 L634.34 229.07 L634.53 229.07 L634.73 229.07 L634.92 229.07 L635.11 229.08 L635.30 229.09 L635.49 229.10 L635.69 229.12 L635.88 229.14 L636.07 229.17 L636.26 229.20 L636.45 229.23 L636.64 229.26 L636.83 229.30 L637.02 229.34 L637.17 229.37 M647.69 234.50 L647.86 234.61 L648.04 234.71 L648.22 234.81 L648.40 234.92 L648.57 235.02 L648.75 235.11 L648.93 235.21 L649.11 235.30 L649.28 235.40 L649.46 235.49 L649.64 235.57 L649.81 235.66 L649.99 235.74 L650.18 235.83 L650.37 235.92 L650.57 236.01 L650.76 236.10 L650.95 236.18 L651.15 236.27 L651.25 236.31 M662.14 238.81 L662.30 238.75 L662.48 238.68 L662.67 238.60 L662.86 238.51 L663.07 238.41 L663.28 238.31 L663.50 238.20 L663.64 238.13 L663.78 238.05 L663.93 237.96 L664.08 237.88 L664.23 237.78 L664.38 237.69 L664.53 237.58 L664.68 237.48 L664.84 237.37 L664.99 237.26 L665.15 237.14 L665.31 237.02 L665.47 236.90 L665.59 236.81 M670.95 232.23 L671.12 232.07 L671.30 231.92 L671.47 231.77 L671.64 231.61 L671.82 231.46 L671.99 231.30 L672.17 231.14 L672.34 230.99 L672.51 230.84 L672.68 230.68 L672.85 230.53 L673.01 230.38 L673.17 230.23 L673.33 230.09 L673.49 229.94 L673.65 229.80 L673.80 229.67 L673.87 229.60" fill="none" stroke="#1a1aff" stroke-width="2.6" stroke-linecap="round" stroke-linejoin="round"/>
<g fill="#000" shape-rendering="crispEdges"><rect x="95" y="14.00" width="1" height="314.30" fill-opacity="0.099"/><rect x="96" y="14.00" width="1" height="314.30" fill-opacity="0.431"/><rect x="97" y="14.00" width="1" height="314.30" fill-opacity="0.674"/><rect x="98" y="14.00" width="1" height="314.30" fill-opacity="0.406"/><rect x="99" y="14.00" width="1" height="314.30" fill-opacity="0.087"/><rect x="673" y="14.00" width="1" height="314.30" fill-opacity="0.047"/><rect x="674" y="14.00" width="1" height="314.30" fill-opacity="0.309"/><rect x="675" y="14.00" width="1" height="314.30" fill-opacity="0.681"/><rect x="676" y="14.00" width="1" height="314.30" fill-opacity="0.695"/><rect x="677" y="14.00" width="1" height="314.30" fill-opacity="0.333"/><rect x="678" y="14.00" width="1" height="314.30" fill-opacity="0.055"/><rect x="90.50" y="12" width="586.00" height="1" fill-opacity="0.017"/><rect x="90.50" y="13" width="586.00" height="1" fill-opacity="0.236"/><rect x="90.50" y="14" width="586.00" height="1" fill-opacity="0.694"/><rect x="90.50" y="15" width="586.00" height="1" fill-opacity="0.543"/><rect x="90.50" y="16" width="586.00" height="1" fill-opacity="0.106"/><rect x="90.50" y="318" width="586.00" height="1" fill-opacity="0.045"/><rect x="90.50" y="319" width="586.00" height="1" fill-opacity="0.322"/><rect x="90.50" y="320" width="586.00" height="1" fill-opacity="0.693"/><rect x="90.50" y="321" width="586.00" height="1" fill-opacity="0.509"/><rect x="90.50" y="322" width="586.00" height="1" fill-opacity="0.121"/><rect x="90.50" y="268" width="6.10" height="1" fill-opacity="0.142"/><rect x="90.50" y="269" width="6.10" height="1" fill-opacity="0.732"/><rect x="90.50" y="270" width="6.10" height="1" fill-opacity="0.407"/><rect x="90.50" y="271" width="6.10" height="1" fill-opacity="0.017"/><rect x="90.50" y="217" width="6.10" height="1" fill-opacity="0.135"/><rect x="90.50" y="218" width="6.10" height="1" fill-opacity="0.727"/><rect x="90.50" y="219" width="6.10" height="1" fill-opacity="0.419"/><rect x="90.50" y="220" width="6.10" height="1" fill-opacity="0.018"/><rect x="90.50" y="166" width="6.10" height="1" fill-opacity="0.129"/><rect x="90.50" y="167" width="6.10" height="1" fill-opacity="0.720"/><rect x="90.50" y="168" width="6.10" height="1" fill-opacity="0.430"/><rect x="90.50" y="169" width="6.10" height="1" fill-opacity="0.020"/><rect x="90.50" y="115" width="6.10" height="1" fill-opacity="0.122"/><rect x="90.50" y="116" width="6.10" height="1" fill-opacity="0.713"/><rect x="90.50" y="117" width="6.10" height="1" fill-opacity="0.442"/><rect x="90.50" y="118" width="6.10" height="1" fill-opacity="0.022"/><rect x="90.50" y="64" width="6.10" height="1" fill-opacity="0.116"/><rect x="90.50" y="65" width="6.10" height="1" fill-opacity="0.706"/><rect x="90.50" y="66" width="6.10" height="1" fill-opacity="0.454"/><rect x="90.50" y="67" width="6.10" height="1" fill-opacity="0.023"/><rect x="94.60" y="293" width="2.00" height="1" fill-opacity="0.022"/><rect x="94.60" y="294" width="2.00" height="1" fill-opacity="0.445"/><rect x="94.60" y="295" width="2.00" height="1" fill-opacity="0.711"/><rect x="94.60" y="296" width="2.00" height="1" fill-opacity="0.120"/><rect x="94.60" y="242" width="2.00" height="1" fill-opacity="0.020"/><rect x="94.60" y="243" width="2.00" height="1" fill-opacity="0.434"/><rect x="94.60" y="244" width="2.00" height="1" fill-opacity="0.718"/><rect x="94.60" y="245" width="2.00" height="1" fill-opacity="0.127"/><rect x="94.60" y="191" width="2.00" height="1" fill-opacity="0.019"/><rect x="94.60" y="192" width="2.00" height="1" fill-opacity="0.422"/><rect x="94.60" y="193" width="2.00" height="1" fill-opacity="0.725"/><rect x="94.60" y="194" width="2.00" height="1" fill-opacity="0.133"/><rect x="94.60" y="140" width="2.00" height="1" fill-opacity="0.017"/><rect x="94.60" y="141" width="2.00" height="1" fill-opacity="0.410"/><rect x="94.60" y="142" width="2.00" height="1" fill-opacity="0.731"/><rect x="94.60" y="143" width="2.00" height="1" fill-opacity="0.140"/><rect x="94.60" y="89" width="2.00" height="1" fill-opacity="0.016"/><rect x="94.60" y="90" width="2.00" height="1" fill-opacity="0.399"/><rect x="94.60" y="91" width="2.00" height="1" fill-opacity="0.736"/><rect x="94.60" y="92" width="2.00" height="1" fill-opacity="0.147"/><rect x="94.60" y="38" width="2.00" height="1" fill-opacity="0.015"/><rect x="94.60" y="39" width="2.00" height="1" fill-opacity="0.387"/><rect x="94.60" y="40" width="2.00" height="1" fill-opacity="0.742"/><rect x="94.60" y="41" width="2.00" height="1" fill-opacity="0.155"/><rect x="240" y="321.00" width="1" height="7.00" fill-opacity="0.141"/><rect x="241" y="321.00" width="1" height="7.00" fill-opacity="0.676"/><rect x="242" y="321.00" width="1" height="7.00" fill-opacity="0.723"/><rect x="243" y="321.00" width="1" height="7.00" fill-opacity="0.257"/><rect x="385" y="321.00" width="1" height="7.00" fill-opacity="0.343"/><rect x="386" y="321.00" width="1" height="7.00" fill-opacity="0.737"/><rect x="387" y="321.00" width="1" height="7.00" fill-opacity="0.626"/><rect x="388" y="321.00" width="1" height="7.00" fill-opacity="0.087"/><rect x="529" y="321.00" width="1" height="7.00" fill-opacity="0.048"/><rect x="530" y="321.00" width="1" height="7.00" fill-opacity="0.560"/><rect x="531" y="321.00" width="1" height="7.00" fill-opacity="0.744"/><rect x="532" y="321.00" width="1" height="7.00" fill-opacity="0.432"/><rect x="533" y="321.00" width="1" height="7.00" fill-opacity="0.016"/><rect x="168" y="321.00" width="1" height="4.00" fill-opacity="0.318"/><rect x="169" y="321.00" width="1" height="4.00" fill-opacity="0.734"/><rect x="170" y="321.00" width="1" height="4.00" fill-opacity="0.642"/><rect x="171" y="321.00" width="1" height="4.00" fill-opacity="0.101"/><rect x="312" y="321.00" width="1" height="4.00" fill-opacity="0.040"/><rect x="313" y="321.00" width="1" height="4.00" fill-opacity="0.539"/><rect x="314" y="321.00" width="1" height="4.00" fill-opacity="0.745"/><rect x="315" y="321.00" width="1" height="4.00" fill-opacity="0.457"/><rect x="316" y="321.00" width="1" height="4.00" fill-opacity="0.020"/><rect x="457" y="321.00" width="1" height="4.00" fill-opacity="0.160"/><rect x="458" y="321.00" width="1" height="4.00" fill-opacity="0.687"/><rect x="459" y="321.00" width="1" height="4.00" fill-opacity="0.717"/><rect x="460" y="321.00" width="1" height="4.00" fill-opacity="0.234"/><rect x="602" y="321.00" width="1" height="4.00" fill-opacity="0.369"/><rect x="603" y="321.00" width="1" height="4.00" fill-opacity="0.740"/><rect x="604" y="321.00" width="1" height="4.00" fill-opacity="0.609"/><rect x="605" y="321.00" width="1" height="4.00" fill-opacity="0.074"/></g>
<text x="85.5" y="329.0" font-family="Liberation Serif, serif" font-weight="bold" font-size="29" text-anchor="end" fill="#000">0.0</text>
<text x="85.5" y="278.0" font-family="Liberation Serif, serif" font-weight="bold" font-size="29" text-anchor="end" fill="#000">0.1</text>
<text x="85.5" y="227.0" font-family="Liberation Serif, serif" font-weight="bold" font-size="29" text-anchor="end" fill="#000">0.2</text>
<text x="85.5" y="176.1" font-family="Liberation Serif, serif" font-weight="bold" font-size="29" text-anchor="end" fill="#000">0.3</text>
<text x="85.5" y="125.1" font-family="Liberation Serif, serif" font-weight="bold" font-size="29" text-anchor="end" fill="#000">0.4</text>
<text x="85.5" y="74.1" font-family="Liberation Serif, serif" font-weight="bold" font-size="29" text-anchor="end" fill="#000">0.5</text>
<text x="85.5" y="23.1" font-family="Liberation Serif, serif" font-weight="bold" font-size="29" text-anchor="end" fill="#000">0.6</text>
<text x="97.0" y="354.5" font-family="Liberation Serif, serif" font-weight="bold" font-size="28.5" text-anchor="middle" fill="#000">3</text>
<text x="241.6" y="354.5" font-family="Liberation Serif, serif" font-weight="bold" font-size="28.5" text-anchor="middle" fill="#000">4</text>
<text x="386.2" y="354.5" font-family="Liberation Serif, serif" font-weight="bold" font-size="28.5" text-anchor="middle" fill="#000">5</text>
<text x="530.9" y="354.5" font-family="Liberation Serif, serif" font-weight="bold" font-size="28.5" text-anchor="middle" fill="#000">6</text>
<text x="675.5" y="354.5" font-family="Liberation Serif, serif" font-weight="bold" font-size="28.5" text-anchor="middle" fill="#000">7</text>
<text x="293.67 308.93 319.45 330.88 345.32 358.55 369.83 383.25 393.86 407.30 413.50 421.58 440.97 460.11 470.70" y="397.8" font-family="Liberation Serif, serif" font-weight="bold" font-size="25" fill="#000">Frequency (GHz)</text>
<text transform="translate(20.5,250) rotate(-90)" x="0.40 16.48 34.17 52.00 58.90 67.88 81.25 88.70 97.04 106.65 114.24 124.05 130.37 150.41 161.40" y="0" font-family="Liberation Serif, serif" font-weight="bold" font-size="25" fill="#000">CCL (bits/s/Hz)</text>
<path d="M533.6 58.4H569.6" stroke="#ff1414" stroke-width="2.6" stroke-linecap="round"/>
<path d="M533.4 81.5H536.6M544.8 81.5H548.2M556.2 81.5H559.6" stroke="#1a1aff" stroke-width="2.7" stroke-linecap="round"/>
<text x="573.94 585.10 590.82 606.73 617.05 621.82 630.81 636.88 645.57" y="62.5" font-family="Liberation Serif, serif" font-weight="bold" font-size="17.6" fill="#000">Simulated</text>
<text x="573.89 592.88 600.62 609.95 618.13 627.62 636.18 644.17" y="86.6" font-family="Liberation Serif, serif" font-weight="bold" font-size="17.6" fill="#000"><tspan font-size="18.8">M</tspan>easured</text>
</svg>
</body></html>
